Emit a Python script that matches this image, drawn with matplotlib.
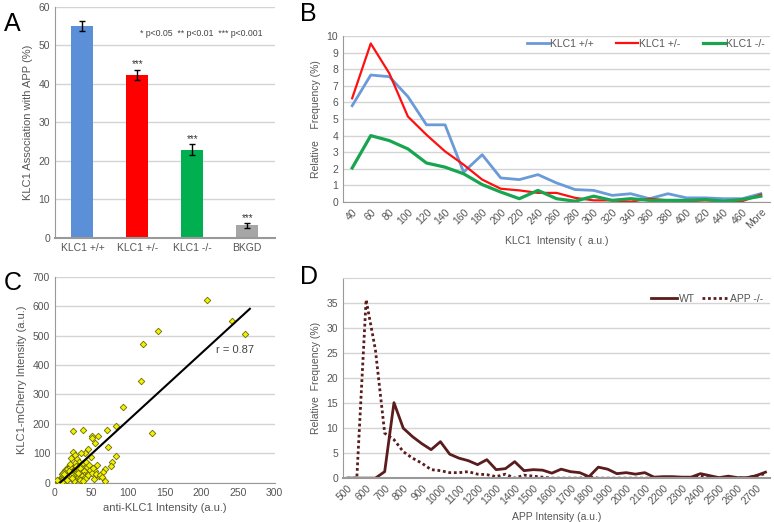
import matplotlib
matplotlib.use('Agg')
import matplotlib.pyplot as plt
import numpy as np

plt.rcParams['font.family'] = ['Liberation Sans', 'DejaVu Sans']
plt.rcParams['font.size'] = 7
GRAY_TXT = '#555555'
GRID = '#d4d4d4'

# ---- panel A data
a_labels = ['KLC1 +/+', 'KLC1 +/-', 'KLC1 -/-', 'BKGD']
a_values = [54.9, 42.3, 22.9, 3.3]
a_err = [1.3, 1.4, 1.4, 0.6]
a_colors = ['#5b8fd8', '#ff0000', '#00b050', '#a6a6a6']
a_stars = ['', '***', '***', '***']

# ---- panel B data
b_cats = ['40', '60', '80', '100', '120', '140', '160', '180', '200', '220', '240',
          '260', '280', '300', '320', '340', '360', '380', '400', '420', '440', '460', 'More']
b_wt = [5.8, 7.65, 7.55, 6.35, 4.65, 4.65, 1.8, 2.85, 1.45, 1.35, 1.65, 1.15, 0.75,
        0.7, 0.4, 0.5, 0.2, 0.5, 0.25, 0.25, 0.2, 0.2, 0.5]
b_het = [6.25, 9.55, 7.75, 5.15, 4.05, 3.05, 2.25, 1.35, 0.8, 0.7, 0.55, 0.55, 0.25,
         0.1, 0.1, 0.02, 0.2, 0.1, 0.05, 0.1, 0.05, 0.05, 0.45]
b_ko = [2.05, 4.0, 3.7, 3.2, 2.35, 2.1, 1.7, 1.05, 0.6, 0.2, 0.7, 0.2, 0.05,
        0.35, 0.1, 0.2, 0.1, 0.1, 0.1, 0.15, 0.05, 0.15, 0.35]

# ---- panel C data
c_x = [207, 241, 260, 141, 120, 118, 132, 93, 83, 71, 59, 50, 51, 38, 24, 73, 55,
       83, 78, 77, 68, 66, 68, 53, 60, 45, 41, 36, 49, 58, 54,
       25, 27, 22, 30, 33, 28, 20, 18, 24, 31, 35, 38, 42, 26, 29, 23, 19, 15, 12,
       10, 8, 6, 5, 14, 17, 21, 16, 13, 11, 9, 7, 32, 34, 36, 40, 44, 47, 39, 37,
       27, 25, 22, 20, 18, 30, 33, 28, 24, 26, 35, 41, 46, 48, 43, 31, 29, 21, 19, 15,
       12, 10, 14, 17, 23, 34, 38, 45, 50, 52, 56, 62, 64, 4, 3, 9, 11, 13]
c_y = [620, 548, 505, 515, 470, 345, 168, 258, 192, 178, 158, 158, 152, 181, 176, 121, 135,
       90, 70, 57, 47, 38, 5, 12, 22, 115, 102, 103, 88, 62, 40,
       105, 95, 85, 80, 72, 68, 60, 55, 50, 58, 62, 66, 70, 45, 40, 38, 35, 30, 25,
       20, 15, 10, 5, 42, 48, 55, 22, 18, 12, 8, 4, 48, 52, 35, 40, 55, 60, 28, 22,
       30, 25, 28, 20, 15, 18, 12, 10, 8, 5, 10, 20, 30, 45, 15, 32, 58, 65, 40, 12,
       38, 30, 5, 10, 15, 8, 5, 25, 35, 50, 30, 28, 20, 3, 8, 2, 35, 30]
c_fit = [7, 266]
c_slope, c_icpt = 2.28, -15.6

# ---- panel D data
d_x = list(range(500, 2751, 50))
d_wt = [0, 0, 0, 0, 1.3, 15.1, 10.0, 8.3, 6.9, 5.7, 7.3, 4.8, 4.0, 3.5, 2.7, 3.7,
        1.7, 1.9, 3.3, 1.5, 1.7, 1.6, 1.0, 1.8, 1.3, 1.1, 0.3, 2.2, 1.8, 0.9, 1.1,
        0.8, 1.1, 0.2, 0.3, 0.3, 0.2, 0.2, 0.9, 0.5, 0.1, 0.4, 0.1, 0.1, 0.5, 1.2]
d_ko = [0, 0, 35.7, 25.7, 9.0, 7.7, 5.3, 4.0, 3.0, 1.7, 1.5, 1.1, 1.1, 1.3, 0.8, 0.7,
        0.3, 0.8, 0, 0.6, 0.4, 0.2, 0, 0, 0, 0, 0.3, 0, 0, 0, 0,
        0, 0, 0, 0, 0, 0, 0, 0.5, 0, 0, 0, 0, 0, 0.5, 0.9]


def style(ax):
    ax.grid(axis='y', color=GRID, lw=1)
    ax.set_axisbelow(True)
    for s in ['top', 'right']:
        ax.spines[s].set_visible(False)
    ax.spines['left'].set_color('#999999')
    ax.spines['bottom'].set_color('#999999')
    ax.tick_params(colors=GRAY_TXT, labelsize=7.5, length=0)


fig = plt.figure(figsize=(7.74, 5.22), dpi=100)

# A
ax1 = fig.add_axes([0.071, 0.544, 0.284, 0.443])
xa = np.arange(len(a_labels))
ax1.bar(xa, a_values, width=0.4, color=a_colors, yerr=a_err,
        error_kw=dict(ecolor='black', lw=1, capsize=2.5))
for i, s in enumerate(a_stars):
    if s:
        ax1.text(xa[i], a_values[i] + a_err[i] + 0.6, s, ha='center', fontsize=7, color='#333333')
ax1.set_xlim(-0.5, 3.5)
ax1.set_ylim(0, 60)
ax1.set_yticks(np.arange(0, 61, 10))
ax1.set_xticks(xa)
ax1.set_xticklabels(a_labels, fontsize=8)
ax1.set_ylabel('KLC1 Association with APP (%)', color=GRAY_TXT, fontsize=8)
style(ax1)
ax1.spines['bottom'].set_linewidth(1.5)
ax1.text(0.385, 0.875, '* p<0.05  ** p<0.01  *** p<0.001', transform=ax1.transAxes,
         fontsize=6.3, color='#444444')

# B
ax2 = fig.add_axes([0.443, 0.613, 0.552, 0.318])
xb = np.arange(len(b_cats))
ax2.plot(xb, b_wt, color='#6a9ad8', lw=2, label='KLC1 +/+')
ax2.plot(xb, b_het, color='#ff1010', lw=1.6, label='KLC1 +/-')
ax2.plot(xb, b_ko, color='#18a550', lw=2.3, label='KLC1 -/-')
ax2.set_xlim(-0.5, len(b_cats) - 0.5)
ax2.set_ylim(0, 10)
ax2.set_yticks(np.arange(0, 11, 1))
ax2.set_xticks(xb)
ax2.set_xticklabels(b_cats, rotation=45, ha='right', rotation_mode='anchor')
ax2.set_ylabel('Relative    Frequency (%)', color=GRAY_TXT, fontsize=7.5)
ax2.set_xlabel('KLC1  Intensity (  a.u.)', color=GRAY_TXT, fontsize=7.5)
style(ax2)
ax2.legend(loc='upper right', ncol=3, frameon=False, fontsize=7.5, handlelength=2.1,
           handletextpad=0.1, bbox_to_anchor=(1.01, 1.04), columnspacing=2.2,
           labelcolor=GRAY_TXT)

# C
ax3 = fig.add_axes([0.071, 0.075, 0.284, 0.395])
ax3.scatter(c_x, c_y, marker='D', s=11, facecolor='#f2f200', edgecolor='#6b6b00', lw=0.6, zorder=3)
fx = np.array(c_fit)
ax3.plot(fx, c_slope * fx + c_icpt, color='black', lw=1.5, zorder=4)
ax3.text(220, 440, 'r = 0.87', fontsize=8, color='#444444')
ax3.set_xlim(0, 300)
ax3.set_ylim(0, 700)
ax3.set_xticks(np.arange(0, 301, 50))
ax3.set_yticks(np.arange(0, 701, 100))
ax3.set_xlabel('anti-KLC1 Intensity (a.u.)', color=GRAY_TXT, fontsize=8)
ax3.set_ylabel('KLC1-mCherry Intensity (a.u.)', color=GRAY_TXT, fontsize=8)
style(ax3)

# D
ax4 = fig.add_axes([0.443, 0.084, 0.552, 0.383])
xd = np.arange(len(d_x))
ax4.plot(xd, d_wt, color='#5a1c1c', lw=2, label='WT')
ax4.plot(xd, d_ko, color='#5a1c1c', lw=2, ls=(0, (1, 1)), label='APP -/-')
ax4.set_xlim(-0.5, len(d_x) - 0.5)
ax4.set_ylim(0, 40)
ax4.set_yticks(np.arange(0, 36, 5))
ax4.set_xticks(xd[::2])
ax4.set_xticklabels([str(v) for v in d_x[::2]], rotation=45, ha='right',
                    rotation_mode='anchor', fontsize=6.5)
ax4.set_xlabel('APP Intensity (a.u.)', color=GRAY_TXT, fontsize=7.5)
ax4.set_ylabel('Relative  Frequency (%)', color=GRAY_TXT, fontsize=7.5)
style(ax4)
ax4.spines['top'].set_visible(True)
ax4.spines['top'].set_color(GRID)
ax4.spines['bottom'].set_linewidth(1.5)
ax4.legend(loc='upper right', ncol=2, frameon=False, fontsize=7.5, handlelength=2.5,
           handletextpad=0.2, bbox_to_anchor=(1.005, 0.97), columnspacing=0.6,
           labelcolor=GRAY_TXT)

for lab, x, y in [('A', 0.005, 0.94), ('B', 0.388, 0.96), ('C', 0.005, 0.445), ('D', 0.388, 0.455)]:
    fig.text(x, y, lab, fontsize=18)

fig.savefig('out.png', dpi=100)
